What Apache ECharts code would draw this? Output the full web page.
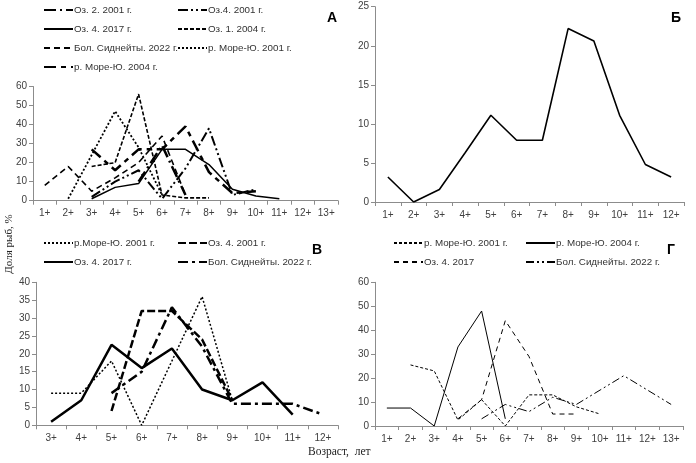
<!DOCTYPE html>
<html><head><meta charset="utf-8">
<script src="https://cdn.jsdelivr.net/npm/echarts@6/dist/echarts.min.js"></script>
<style>html,body{margin:0;padding:0;background:#fff}#c{width:696px;height:463px}</style>
</head><body><div id="c"></div>
<script>
// ---- categories ----
const catA = ['1+','2+','3+','4+','5+','6+','7+','8+','9+','10+','11+','12+','13+'];
const catB = ['1+','2+','3+','4+','5+','6+','7+','8+','9+','10+','11+','12+'];
const catC = ['3+','4+','5+','6+','7+','8+','9+','10+','11+','12+'];
const catD = ['1+','2+','3+','4+','5+','6+','7+','8+','9+','10+','11+','12+','13+'];

// ---- panel А ----
const aOz2_2001  = [null,null,null,null,10,29,3,null,null,null,null,null,null];
const aOz4_2001  = [null,null,2,10,16,1,17,38,3,6,null,null,null];
const aOz4_2017  = [null,null,1,7,9,27,27,19,6,2.5,1,null,null];
const aOz1_2004  = [null,null,18,20,56,3,1.5,1.5,null,null,null,null,null];
const aBol_2022  = [8,18,5,12,20,34,3,null,null,null,null,null,null];
const aMore_2001 = [null,1,24,47,28,3,null,null,null,null,null,null,null];
const aMore_2004 = [null,null,27,16,27,27,39,15,4,5,null,null,null];

// ---- panel Б ----
const bVals = [3.2,0,1.6,6.3,11.1,7.9,7.9,22.2,20.6,11.1,4.8,3.2];

// ---- panel В ----
const cMore_2001 = [9,9,18,0,18,36,7,null,null,null];
const cOz4_2001  = [null,null,4,32,32,24,7,null,null,null];
const cOz4_2017  = [1,7,22.5,16,21.5,10,7,12,3,null];
const cBol_2022  = [null,null,9,15,33,22,6,6,6,3];

// ---- panel Г ----
const dMore_2001 = [null,25.5,23,2.5,11,0,13,13,8,5,null,null,null];
const dMore_2004 = [7.5,7.5,0,33,48,3,null,null,null,null,null,null,null];
const dOz4_2017  = [null,null,null,3,11,44,29,5,5,null,null,null,null];
const dBol_2022  = [null,null,null,null,3,9,6,12,9,15,21,15,9];

const AX = '#8c8c8c', LBL = '#404040';
function xAx(gi, cats){
  return {type:'category', gridIndex:gi, data:cats, boundaryGap:true,
    axisLine:{lineStyle:{color:AX,width:1}}, axisTick:{show:true,length:4,lineStyle:{color:AX}},
    axisLabel:{color:LBL,fontSize:10,fontFamily:'Liberation Sans',margin:8}, splitLine:{show:false}};
}
function yAx(gi, max, step){
  return {type:'value', gridIndex:gi, min:0, max:max, interval:step,
    axisLine:{show:true,lineStyle:{color:AX,width:1}}, axisTick:{show:true,length:4,lineStyle:{color:AX}},
    axisLabel:{color:LBL,fontSize:10,fontFamily:'Liberation Sans',margin:6}, splitLine:{show:false}};
}
function ser(name, gi, data, width, type){
  return {name:name, type:'line', xAxisIndex:gi, yAxisIndex:gi, data:data, symbol:'none',
    connectNulls:false, silent:true, animation:false,
    lineStyle:{color:'#000', width:width, type:type}, itemStyle:{color:'#000'}};
}
function leg(name, left, top){
  return {data:[name], left:left, top:top, padding:0, itemWidth:29, itemHeight:10, itemGap:0,
    selectedMode:false, formatter:n=>n.split('|')[1],
    itemStyle:{color:'rgba(0,0,0,0)', borderColor:'rgba(0,0,0,0)', borderWidth:0, opacity:0},
    textStyle:{color:'#333',fontSize:9.8,fontFamily:'Liberation Sans',padding:[0,0,0,-4]}};
}

const series = [
  ser('A1|Оз. 2. 2001 г.',0,aOz2_2001,2.5,[12,4,2,4]),
  ser('A2|Оз.4. 2001 г.',0,aOz4_2001,2,[10,3,2,3,2,3]),
  ser('A3|Оз. 4. 2017 г.',0,aOz4_2017,1.5,'solid'),
  ser('A4|Оз. 1. 2004 г.',0,aOz1_2004,1.6,[4,2]),
  ser('A5|Бол. Сиднейты. 2022 г.',0,aBol_2022,1.6,[6,4]),
  ser('A6|р. Море-Ю. 2001 г.',0,aMore_2001,1.8,[2,2]),
  ser('A7|р. Море-Ю. 2004 г.',0,aMore_2004,2.5,[12,5,5,5]),
  ser('B1|Б',1,bVals,1.6,'solid'),
  ser('C1|р.Море-Ю. 2001 г.',2,cMore_2001,1.5,[2,2]),
  ser('C2|Оз. 4. 2001 г.',2,cOz4_2001,2.5,[8,3]),
  ser('C3|Оз. 4. 2017 г.',2,cOz4_2017,2.5,'solid'),
  ser('C4|Бол. Сиднейты. 2022 г.',2,cBol_2022,2.5,[10,4,3,4]),
  ser('D1|р. Море-Ю. 2001 г.',3,dMore_2001,1,[3,2]),
  ser('D2|р. Море-Ю. 2004 г.',3,dMore_2004,1,'solid'),
  ser('D3|Оз. 4. 2017',3,dOz4_2017,1,[5,4]),
  ser('D4|Бол. Сиднейты. 2022 г.',3,dBol_2022,1,[8,3,2,3,2,3])
];

const option = {
  animation:false,
  backgroundColor:'#fff',
  grid:[
    {left:33, width:305, top:86.5, height:114.2},
    {left:375, width:309, top:6.7, height:195.3},
    {left:36, width:302, top:282.3, height:143},
    {left:375, width:308, top:282.3, height:143.7}
  ],
  xAxis:[xAx(0,catA), xAx(1,catB), xAx(2,catC), xAx(3,catD)],
  yAxis:[yAx(0,60,10), yAx(1,25,5), yAx(2,40,5), yAx(3,60,10)],
  legend:[
    leg('A1|Оз. 2. 2001 г.',43,5), leg('A2|Оз.4. 2001 г.',177,5),
    leg('A3|Оз. 4. 2017 г.',43,24), leg('A4|Оз. 1. 2004 г.',177,24),
    leg('A5|Бол. Сиднейты. 2022 г.',43,43), leg('A6|р. Море-Ю. 2001 г.',177,43),
    leg('A7|р. Море-Ю. 2004 г.',43,62),
    leg('C1|р.Море-Ю. 2001 г.',43,238), leg('C2|Оз. 4. 2001 г.',177,238),
    leg('C3|Оз. 4. 2017 г.',43,257), leg('C4|Бол. Сиднейты. 2022 г.',177,257),
    leg('D1|р. Море-Ю. 2001 г.',393,238), leg('D2|р. Море-Ю. 2004 г.',525,238),
    leg('D3|Оз. 4. 2017',393,257), leg('D4|Бол. Сиднейты. 2022 г.',525,257)
  ],
  graphic:[
    {type:'text', left:327, top:11, style:{text:'А', font:'bold 14px Liberation Sans', fill:'#000'}},
    {type:'text', left:671, top:11, style:{text:'Б', font:'bold 14px Liberation Sans', fill:'#000'}},
    {type:'text', left:312, top:243, style:{text:'В', font:'bold 14px Liberation Sans', fill:'#000'}},
    {type:'text', left:667, top:243, style:{text:'Г', font:'bold 14px Liberation Sans', fill:'#000'}},
    {type:'text', x:9, y:244, rotation:Math.PI/2,
      style:{text:'Доля рыб, %', font:'11px Liberation Serif', fill:'#222', align:'center', verticalAlign:'middle'}},
    {type:'text', left:308, top:446, style:{text:'Возраст,  лет', font:'11.5px Liberation Serif', fill:'#222'}}
  ],
  series:series
};
const chart = echarts.init(document.getElementById('c'), null, {renderer:'canvas'});
chart.setOption(option);
</script></body></html>
